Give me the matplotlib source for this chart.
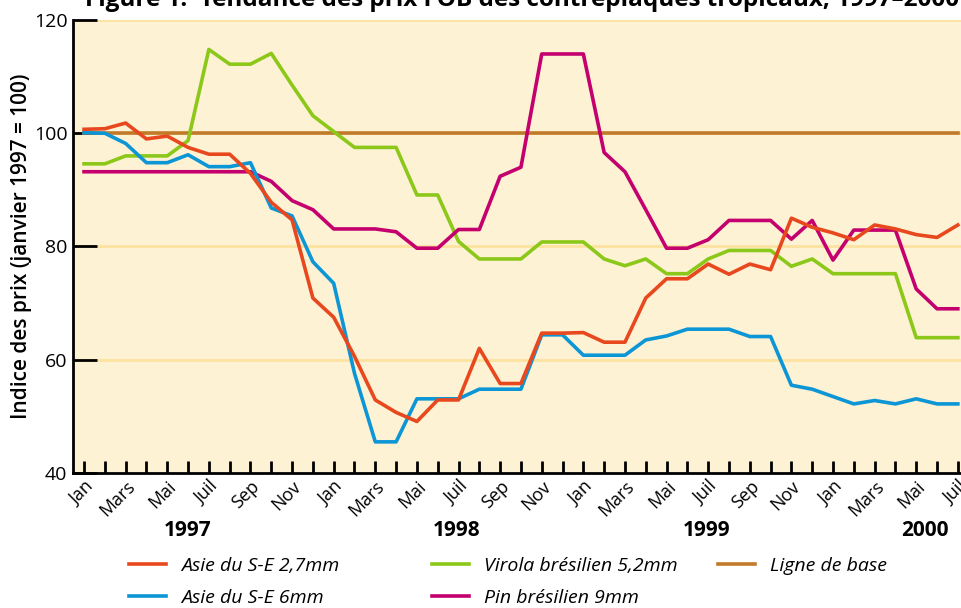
import matplotlib
matplotlib.use("Agg")
import matplotlib.pyplot as plt
import matplotlib.transforms as mtransforms
import numpy as np

plt.rcParams['font.family'] = ['Open Sans', 'DejaVu Sans']

# Monthly price index, Jan 1997 - Jul 2000
asie_27 = [100.7, 100.8, 101.8, 99.0, 99.5, 97.5, 96.3, 96.3, 92.9, 87.8, 84.7,
           70.9, 67.5, 60.6, 52.9, 50.7, 49.1, 52.9, 52.9, 62.0, 55.8,
           55.8, 64.7, 64.7, 64.8, 63.1, 63.1, 70.9, 74.3, 74.3, 76.9, 75.1,
           76.9, 75.9, 85.0, 83.4, 82.4, 81.2, 83.8, 83.1, 82.1, 81.6, 83.8]
asie_6 = [100.1, 100.0, 98.2, 94.8, 94.8, 96.2, 94.1, 94.1, 94.8, 86.8, 85.4,
          77.3, 73.5, 57.6, 45.5, 45.5, 53.1, 53.1, 53.1, 54.8, 54.8,
          54.8, 64.4, 64.4, 60.8, 60.8, 60.8, 63.5, 64.2, 65.4, 65.4, 65.4,
          64.1, 64.1, 55.5, 54.8, 53.5, 52.2, 52.8, 52.2, 53.1, 52.2, 52.2]
virola = [94.6, 94.6, 96.0, 96.0, 96.0, 98.7, 114.8, 112.2, 112.2, 114.1, 108.5,
          103.1, 100.3, 97.5, 97.5, 97.5, 89.1, 89.1, 80.9, 77.8, 77.8,
          77.8, 80.8, 80.8, 80.8, 77.8, 76.6, 77.8, 75.2, 75.2, 77.8, 79.3,
          79.3, 79.3, 76.5, 77.8, 75.2, 75.2, 75.2, 75.2, 63.9, 63.9, 63.9]
pin = [93.2, 93.2, 93.2, 93.2, 93.2, 93.2, 93.2, 93.2, 93.2, 91.5, 88.1,
       86.5, 83.1, 83.1, 83.1, 82.6, 79.7, 79.7, 83.0, 83.0, 92.4,
       94.0, 114.0, 114.0, 114.0, 96.6, 93.2, 86.5, 79.7, 79.7, 81.2, 84.6,
       84.6, 84.6, 81.3, 84.6, 77.6, 82.9, 82.9, 82.9, 72.5, 69.0, 69.0]
base = [100.0] * 43

month_names = ['Jan', 'Mars', 'Mai', 'Juil', 'Sep', 'Nov']
years = ['1997', '1998', '1999', '2000']
year_pos = [5.0, 17.9, 29.9, 40.4]

x = np.arange(len(asie_27))

fig = plt.figure(figsize=(9.62, 6.08), dpi=100)
ax = fig.add_axes([73 / 962, (608 - 473) / 608, 889 / 962, 453 / 608])
ax.set_facecolor('#FEF2D4')

for yv in [60, 80, 100, 120]:
    ax.axhline(yv, color='#FDE3A0', lw=2, zorder=1)

lw = 2.6
l_base, = ax.plot(x, base, color='#C07A2A', lw=lw, zorder=2, label='Ligne de base')
l_vir, = ax.plot(x, virola, color='#8CC81A', lw=lw, zorder=3, label='Virola brésilien 5,2mm')
l_pin, = ax.plot(x, pin, color='#C4006E', lw=lw, zorder=3, label='Pin brésilien 9mm')
l_a6, = ax.plot(x, asie_6, color='#0D96D6', lw=lw, zorder=4, label='Asie du S-E 6mm')
l_a27, = ax.plot(x, asie_27, color='#E8481E', lw=lw, zorder=5, label='Asie du S-E 2,7mm')

ax.set_xlim(-0.53, 42.2)
ax.set_ylim(40, 120)

for s in ['top', 'right']:
    ax.spines[s].set_visible(False)
for s in ['left', 'bottom']:
    ax.spines[s].set_linewidth(2)
    ax.spines[s].set_color('black')

ax.set_yticks([40, 60, 80, 100, 120])
ax.tick_params(axis='y', direction='in', length=17, width=2, labelsize=14, pad=4)
ax.set_xticks(x)
ax.set_xticklabels([month_names[(i // 2) % 6] if i % 2 == 0 else '' for i in x],
                   rotation=45, ha='right', va='top', rotation_mode='anchor')
ax.tick_params(axis='x', direction='in', length=9, width=2, labelsize=13, pad=3)

ax.set_ylabel('Indice des prix (janvier 1997 = 100)', fontsize=15,
              fontweight='semibold', labelpad=1)

trans = mtransforms.blended_transform_factory(ax.transData, fig.transFigure)
for yr, px in zip(years, year_pos):
    ax.text(px, (608 - 530) / 608, yr, transform=trans, ha='center', va='center',
            fontsize=15, fontweight='bold')

fig.text(85 / 962, 1.0, 'Figure 1:  Tendance des prix FOB des contreplaqués tropicaux, 1997–2000',
         ha='left', va='center', fontsize=17.5, fontweight='bold')

# legend: three columns placed separately to match uneven spacing
leg_cols = [([l_a27, l_a6], 129), ([l_vir, l_pin], 432), ([l_base], 718)]
for handles, xl in leg_cols:
    leg = fig.legend(handles=handles, ncol=1, loc='upper left',
                     bbox_to_anchor=(xl / 962, (608 - 557) / 608),
                     frameon=False, prop={'style': 'italic', 'size': 14},
                     handlelength=1.9, handletextpad=0.8, labelspacing=0.72,
                     borderpad=0, borderaxespad=0)

fig.savefig('out.png', dpi=100)
